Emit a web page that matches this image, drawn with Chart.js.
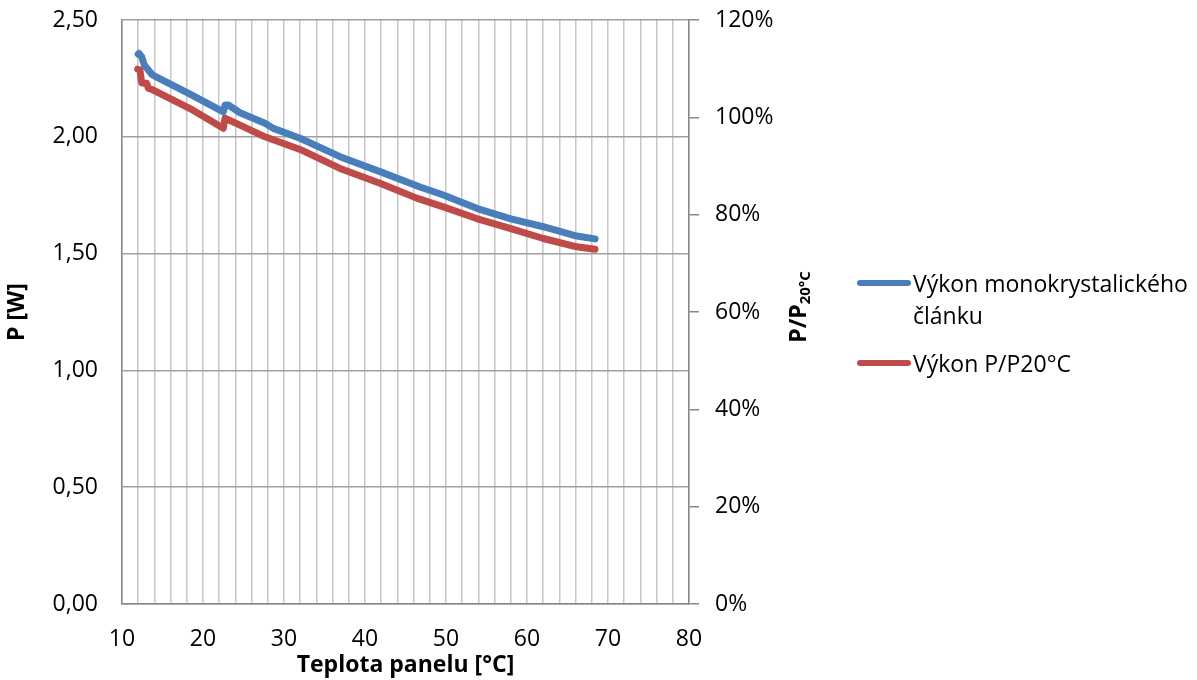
<!DOCTYPE html>
<html>
<head>
<meta charset="utf-8">
<script src="https://cdn.jsdelivr.net/npm/chart.js@4.4.0/dist/chart.umd.min.js"></script>
<style>
  body { margin: 0; background: #fff; }
  #wrap { position: relative; width: 1197px; height: 680px; font-family: 'Open Sans', sans-serif; }
  .key { position: absolute; height: 6px; border-radius: 3px; width: 54px; left: 857px; }
  .txt { position: absolute; left: 913px; font-size: 23px; line-height: 32px; color: #000; }
</style>
</head>
<body>
<div id="wrap">
  <canvas id="chart" width="1197" height="680"></canvas>
  <div class="key" style="top:280px; background:#4a7ebb"></div>
  <div class="txt" style="top:267px">Výkon monokrystalického<br>článku</div>
  <div class="key" style="top:360px; background:#be4b48"></div>
  <div class="txt" style="top:347px">Výkon P/P20°C</div>
</div>
<script>
// panel temperature [°C] and output power [W] of the monocrystalline cell
const tempMono = [12.0, 12.1, 12.43, 12.75, 13.25, 13.67, 14.28, 18.4, 22.51, 22.72, 23.12,
  24.57, 27.65, 28.68, 31.98, 36.91, 41.85, 46.79, 49.67, 53.79, 57.9, 62.01, 66.14, 68.4];
const powerMono = [2.354, 2.357, 2.343, 2.307, 2.286, 2.268, 2.255, 2.183, 2.107, 2.136, 2.136,
  2.103, 2.058, 2.036, 1.994, 1.915, 1.851, 1.785, 1.751, 1.694, 1.65, 1.615, 1.575, 1.563];

// power relative to P at 20 °C [%]
const tempRatio = [11.94, 12.22, 12.43, 12.63, 13.05, 13.25, 13.86, 18.4, 22.51, 22.72,
  24.57, 27.65, 31.98, 36.91, 41.85, 46.38, 49.67, 53.79, 57.9, 62.01, 66.14, 68.4];
const ratioPct = [109.9, 109.7, 107.1, 107.0, 107.0, 106.0, 105.6, 101.8, 97.75, 99.8,
  98.4, 96.0, 93.4, 89.5, 86.45, 83.4, 81.6, 79.2, 77.2, 75.1, 73.4, 72.9];

const FONT = "'Open Sans', sans-serif";
const tickFont = { family: FONT, size: 23 };
const titleFont = { family: FONT, size: 23, weight: 'bold' };

const toPoints = (xs, ys) => xs.map((x, i) => ({ x: x, y: ys[i] }));

// fixed axis widths; tick padding should not push the plot down
const fixWidth = w => s => {
  s.width = w;
  s.paddingTop = 0;
  s.paddingBottom = 0;
};

// right axis title with subscript
const ratioTitle = {
  id: 'ratioTitle',
  afterDraw(chart) {
    const s = chart.scales.y2;
    const ctx = chart.ctx;
    ctx.save();
    ctx.translate(s.left + 110, 307);
    ctx.rotate(-Math.PI / 2);
    ctx.fillStyle = '#000';
    ctx.textBaseline = 'middle';
    ctx.font = 'bold 23px ' + FONT;
    const w1 = ctx.measureText('P/P').width;
    ctx.font = 'bold 15px ' + FONT;
    const w2 = ctx.measureText('20°C').width;
    const x0 = -(w1 + w2) / 2;
    ctx.font = 'bold 23px ' + FONT;
    ctx.fillText('P/P', x0, 0);
    ctx.font = 'bold 15px ' + FONT;
    ctx.fillText('20°C', x0 + w1, 7);
    ctx.restore();
  }
};

new Chart(document.getElementById('chart'), {
  type: 'line',
  data: {
    datasets: [{
      label: 'Výkon monokrystalického článku',
      data: toPoints(tempMono, powerMono),
      borderColor: '#4a7ebb',
      borderWidth: 7,
      yAxisID: 'y'
    }, {
      label: 'Výkon P/P20°C',
      data: toPoints(tempRatio, ratioPct),
      borderColor: '#be4b48',
      borderWidth: 7,
      yAxisID: 'y2'
    }]
  },
  options: {
    responsive: false,
    animation: false,
    devicePixelRatio: 1,
    layout: { padding: { left: 0, right: 378, top: 20, bottom: 0 } },
    elements: {
      point: { radius: 0 },
      line: { tension: 0, borderCapStyle: 'round', borderJoinStyle: 'round' }
    },
    plugins: { legend: { display: false }, tooltip: { enabled: false } },
    scales: {
      x: {
        type: 'linear',
        min: 10,
        max: 80,
        ticks: {
          stepSize: 2,
          autoSkip: false,
          maxRotation: 0,
          padding: 22,
          color: '#000',
          font: tickFont,
          callback: v => (v % 10 === 0 ? v : '')
        },
        grid: { color: '#c6c6c6', lineWidth: 1.5, drawTicks: false },
        border: { color: '#888', width: 1.5 },
        title: { display: true, text: 'Teplota panelu [°C]', color: '#000', font: titleFont, padding: { top: 0, bottom: 1 } },
        afterFit: s => { s.height = 76; }
      },
      y: {
        position: 'left',
        min: 0,
        max: 2.5,
        ticks: {
          stepSize: 0.5,
          padding: 24,
          color: '#000',
          font: tickFont,
          callback: v => v.toFixed(2).replace('.', ',')
        },
        grid: { color: '#a0a0a0', lineWidth: 1.5, drawTicks: false },
        border: { color: '#888', width: 1.5 },
        title: { display: true, text: 'P [W]', color: '#000', font: titleFont, padding: { top: 4, bottom: 0 } },
        afterFit: fixWidth(122)
      },
      y2: {
        position: 'right',
        min: 0,
        max: 120,
        ticks: {
          stepSize: 20,
          padding: 16,
          color: '#000',
          font: tickFont,
          callback: v => v + '%'
        },
        grid: { drawOnChartArea: false, drawTicks: true, tickLength: 10, color: '#888', lineWidth: 1.5 },
        border: { color: '#888', width: 1.5 },
        afterFit: fixWidth(130)
      }
    }
  },
  plugins: [ratioTitle]
});
</script>
</body>
</html>
